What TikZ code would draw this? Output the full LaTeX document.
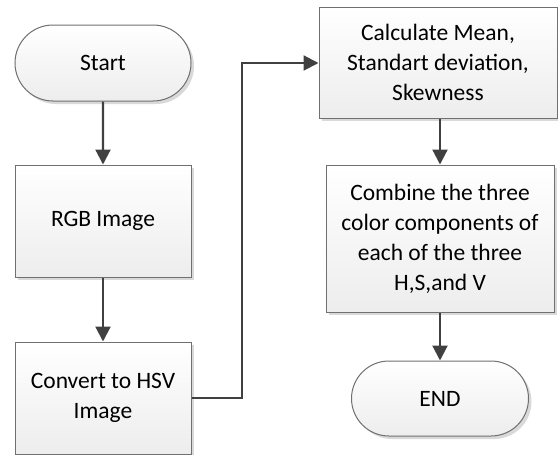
\documentclass[tikz,border=0pt]{standalone}
\usepackage{fontspec}
\setmainfont{Carlito}
\usetikzlibrary{arrows.meta,shadows,shapes.misc}
\definecolor{bordergray}{HTML}{707070}
\definecolor{fillbot}{HTML}{EDEDED}
\definecolor{arrowgray}{HTML}{404040}
\definecolor{shadowgray}{HTML}{D9D9D9}
\tikzset{
  x=1pt, y=-1pt,
  base/.style={draw=bordergray, line width=1pt, top color=white, bottom color=fillbot,
    drop shadow={shadow xshift=3pt, shadow yshift=-3pt, fill=shadowgray, opacity=1},
    align=center, font=\fontsize{23.5}{30}\selectfont, inner sep=0pt},
  procbox/.style={base, rectangle},
  termbox/.style={base, rounded rectangle},
  conn/.style={draw=arrowgray, line width=2.2pt, -{Triangle[length=15pt,width=15pt]}},
}
\begin{document}
\begin{tikzpicture}
\useasboundingbox (0,0) rectangle (558,455);
\node[termbox, minimum width=176pt, minimum height=76pt] (start) at (103,63) {Start};
\node[procbox, minimum width=176pt, minimum height=112pt] (rgb) at (103,221) {RGB Image};
\node[procbox, minimum width=176pt, minimum height=112pt] (hsv) at (103,398) {Convert to HSV\\Image};
\node[procbox, minimum width=238pt, minimum height=111pt] (calc) at (438,62.5) {Calculate Mean,\\Standart deviation,\\Skewness};
\node[procbox, minimum width=228pt, minimum height=147pt] (comb) at (440,238.5) {Combine the three\\color components of\\each of the three\\H,S,and V};
\node[termbox, minimum width=177pt, minimum height=75pt] (end) at (440,398.5) {END};
\coordinate (c1) at (242,398);
\coordinate (c2) at (242,63);
\draw[conn] (start) -- (rgb);
\draw[conn] (rgb) -- (hsv);
\draw[conn] (hsv.east) -- (c1) -- (c2) -- (calc.west |- c2);
\draw[conn] (calc.south -| comb) -- (comb);
\draw[conn] (comb) -- (end);
\end{tikzpicture}
\end{document}
